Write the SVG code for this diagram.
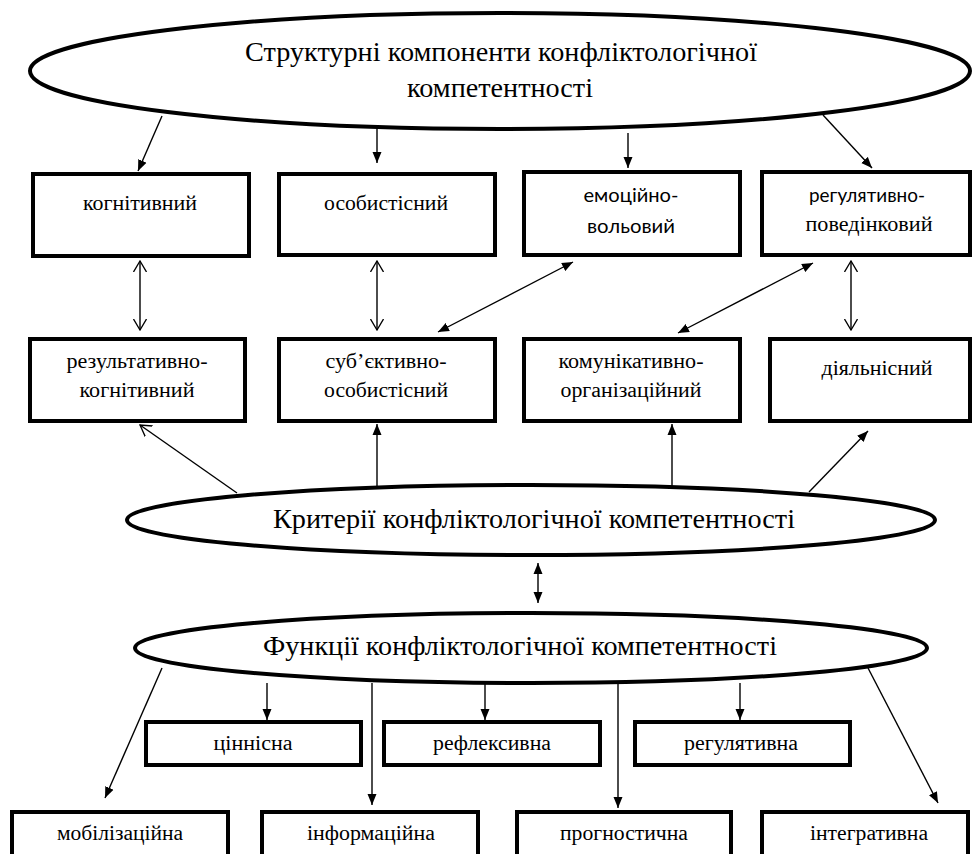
<svg xmlns="http://www.w3.org/2000/svg" width="975" height="854" viewBox="0 0 975 854">
<style>
.box{fill:#fff;stroke:#000;stroke-width:4}
.ell{fill:#fff;stroke:#000;stroke-width:4}
.c{fill:none;stroke:#000;stroke-width:1.4}
.t{font-size:20px;fill:#000;text-anchor:middle}
.s{font-size:20px;fill:#000;text-anchor:middle}
.big{font-size:27px;fill:#000;text-anchor:middle}
</style>
<defs>
<marker id="fa" markerUnits="userSpaceOnUse" markerWidth="12" markerHeight="10" refX="11" refY="5" orient="auto-start-reverse"><path d="M0,0.5 L11,5 L0,9.5 z" fill="#000"/></marker>
<marker id="oa" markerUnits="userSpaceOnUse" markerWidth="12" markerHeight="14" refX="11" refY="7" orient="auto-start-reverse"><path d="M0,0.5 L11,7 L0,13.5" fill="none" stroke="#000" stroke-width="1.3"/></marker>
</defs>
<rect width="975" height="854" fill="#fff"/>

<g id="diagram" font-family="'Liberation Serif', 'Times New Roman', serif">
<g id="structure">
<ellipse class="ell" cx="500" cy="71" rx="470" ry="58"/>
<text class="big" x="501" y="61" textLength="512" lengthAdjust="spacingAndGlyphs">Структурні компоненти конфліктологічної</text>
<text class="big" x="500" y="97" textLength="186" lengthAdjust="spacingAndGlyphs">компетентності</text>
</g>

<g id="cognitive"><rect class="box" x="33" y="174" width="216" height="82"/><text class="t" x="140" y="210" textLength="114" lengthAdjust="spacingAndGlyphs">когнітивний</text></g>
<g id="personal"><rect class="box" x="279" y="174" width="216" height="81"/><text class="t" x="386" y="210" textLength="124" lengthAdjust="spacingAndGlyphs">особистісний</text></g>
<g id="emotional"><rect class="box" x="524" y="172" width="216" height="83"/><text class="s" x="631" y="202" font-family="Lato, 'Noto Sans', sans-serif" textLength="95" lengthAdjust="spacingAndGlyphs">емоційно-</text><text class="s" x="631" y="233" font-family="Lato, 'Noto Sans', sans-serif" textLength="88" lengthAdjust="spacingAndGlyphs">вольовий</text></g>
<g id="regulative"><rect class="box" x="762" y="172" width="208" height="83"/><text class="s" x="867" y="202" font-family="Lato, 'Noto Sans', sans-serif" textLength="116" lengthAdjust="spacingAndGlyphs">регулятивно-</text><text class="t" x="869" y="231" textLength="127" lengthAdjust="spacingAndGlyphs">поведінковий</text></g>

<g id="result"><rect class="box" x="30" y="339" width="215" height="82"/><text class="t" x="137" y="368" textLength="141" lengthAdjust="spacingAndGlyphs">результативно-</text><text class="t" x="137" y="397" textLength="115" lengthAdjust="spacingAndGlyphs">когнітивний</text></g>
<g id="subjective"><rect class="box" x="279" y="339" width="216" height="82"/><text class="t" x="386" y="368" textLength="121" lengthAdjust="spacingAndGlyphs">суб’єктивно-</text><text class="t" x="386" y="397" textLength="124" lengthAdjust="spacingAndGlyphs">особистісний</text></g>
<g id="communicative"><rect class="box" x="524" y="339" width="216" height="82"/><text class="t" x="631" y="368" textLength="145" lengthAdjust="spacingAndGlyphs">комунікативно-</text><text class="t" x="631" y="397" textLength="141" lengthAdjust="spacingAndGlyphs">організаційний</text></g>
<g id="activity"><rect class="box" x="770" y="339" width="200" height="82"/><text class="t" x="877" y="375" textLength="111" lengthAdjust="spacingAndGlyphs">діяльнісний</text></g>

<g id="criteria">
<ellipse class="ell" cx="531" cy="520" rx="404" ry="35"/>
<text class="big" x="534" y="528" textLength="522" lengthAdjust="spacingAndGlyphs">Критерії конфліктологічної компетентності</text>
</g>

<g id="functions">
<ellipse class="ell" cx="531" cy="648" rx="396" ry="35"/>
<text class="big" x="520" y="655" textLength="514" lengthAdjust="spacingAndGlyphs">Функції конфліктологічної компетентності</text>
</g>

<g id="value"><rect class="box" x="146" y="722" width="215" height="43"/><text class="t" x="253" y="750" textLength="79" lengthAdjust="spacingAndGlyphs">ціннісна</text></g>
<g id="reflexive"><rect class="box" x="384" y="722" width="216" height="43"/><text class="t" x="492" y="750" textLength="118" lengthAdjust="spacingAndGlyphs">рефлексивна</text></g>
<g id="regulatory"><rect class="box" x="635" y="722" width="215" height="43"/><text class="t" x="741" y="750" textLength="114" lengthAdjust="spacingAndGlyphs">регулятивна</text></g>

<g id="mobilizing"><rect class="box" x="12" y="812" width="216" height="60"/><text class="t" x="120" y="840" textLength="126" lengthAdjust="spacingAndGlyphs">мобілізаційна</text></g>
<g id="informational"><rect class="box" x="262" y="812" width="216" height="60"/><text class="t" x="371" y="840" textLength="128" lengthAdjust="spacingAndGlyphs">інформаційна</text></g>
<g id="prognostic"><rect class="box" x="517" y="812" width="214" height="60"/><text class="t" x="624" y="840" textLength="128" lengthAdjust="spacingAndGlyphs">прогностична</text></g>
<g id="integrative"><rect class="box" x="762" y="812" width="206" height="60"/><text class="t" x="869" y="840" textLength="118" lengthAdjust="spacingAndGlyphs">інтегративна</text></g>
</g>

<g id="connectors">
<line class="c" x1="162" y1="116" x2="138" y2="171" marker-end="url(#fa)"/>
<line class="c" x1="377" y1="128" x2="377" y2="163" marker-end="url(#fa)"/>
<line class="c" x1="628" y1="133" x2="628" y2="168" marker-end="url(#fa)"/>
<line class="c" x1="823" y1="115" x2="872" y2="168" marker-end="url(#fa)"/>

<line class="c" x1="140" y1="261" x2="140" y2="330" marker-start="url(#oa)" marker-end="url(#oa)"/>
<line class="c" x1="377" y1="261" x2="377" y2="330" marker-start="url(#oa)" marker-end="url(#oa)"/>
<line class="c" x1="851" y1="261" x2="851" y2="330" marker-start="url(#oa)" marker-end="url(#oa)"/>

<line class="c" x1="438" y1="332" x2="573" y2="262" marker-start="url(#fa)" marker-end="url(#fa)"/>
<line class="c" x1="678" y1="333" x2="813" y2="263" marker-start="url(#fa)" marker-end="url(#fa)"/>

<line class="c" x1="237" y1="493" x2="140" y2="425" marker-end="url(#oa)"/>
<line class="c" x1="377" y1="486" x2="377" y2="424" marker-end="url(#fa)"/>
<line class="c" x1="672" y1="486" x2="672" y2="424" marker-end="url(#fa)"/>
<line class="c" x1="809" y1="492" x2="868" y2="431" marker-end="url(#fa)"/>

<line class="c" x1="538" y1="563" x2="538" y2="603" marker-start="url(#fa)" marker-end="url(#fa)"/>

<line class="c" x1="162" y1="668" x2="105" y2="798" marker-end="url(#fa)"/>
<line class="c" x1="267" y1="683" x2="267" y2="720" marker-end="url(#fa)"/>
<line class="c" x1="372" y1="683" x2="372" y2="805" marker-end="url(#fa)"/>
<line class="c" x1="485" y1="683" x2="485" y2="720" marker-end="url(#fa)"/>
<line class="c" x1="618" y1="683" x2="618" y2="808" marker-end="url(#fa)"/>
<line class="c" x1="740" y1="683" x2="740" y2="720" marker-end="url(#fa)"/>
<line class="c" x1="868" y1="668" x2="938" y2="803" marker-end="url(#fa)"/>
</g>
</svg>
